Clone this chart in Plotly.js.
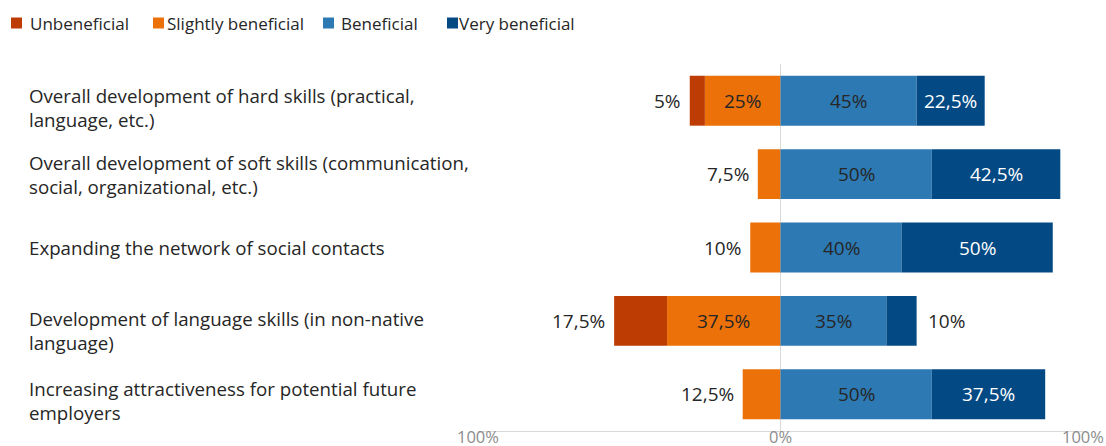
<!DOCTYPE html>
<html>
<head>
<meta charset="utf-8">
<script src="https://cdn.plot.ly/plotly-3.0.1.min.js"></script>
<style>html,body{margin:0;padding:0;background:#fff;}#chart{width:1106px;height:446px;}</style>
</head>
<body>
<div id="chart"></div>
<script>
// ---- data ----
const categories = [
  "Overall development of hard skills (practical,<br>language, etc.)",
  "Overall development of soft skills (communication,<br>social, organizational, etc.)",
  "Expanding the network of social contacts",
  "Development of language skills (in non-native<br>language)",
  "Increasing attractiveness for potential future<br>employers"
];
const seriesNames = ["Unbeneficial", "Slightly beneficial", "Beneficial", "Very beneficial"];
const unbeneficial = [5, 0, 0, 17.5, 0];
const slightlyBeneficial = [25, 7.5, 10, 37.5, 12.5];
const beneficial = [45, 50, 40, 35, 50];
const veryBeneficial = [22.5, 42.5, 50, 10, 37.5];
const tickValues = [-100, 0, 100];
const tickLabels = ["100%", "0%", "100%"];

// ---- style ----
const colors = ["#BC3C04", "#EB7108", "#2C79B3", "#034A84"];
const FONT = "Open Sans, Arial, sans-serif";
const textDark = "#262626";
const L = 478, R = 23, T = 64, B = 15, W = 1106, H = 446;
const pw = W - L - R, ph = H - T - B;
const px2paperX = p => (p - L) / pw;
const px2paperY = p => (H - B - p) / ph;

const fmt = v => String(v).replace('.', ',') + '%';

const traces = [
  {name: seriesNames[1], x: slightlyBeneficial.map(v => -v), y: categories, marker: {color: colors[1]}},
  {name: seriesNames[0], x: unbeneficial.map(v => -v), y: categories, marker: {color: colors[0]}},
  {name: seriesNames[2], x: beneficial, y: categories, marker: {color: colors[2]}},
  {name: seriesNames[3], x: veryBeneficial, y: categories, marker: {color: colors[3]}}
].map(t => Object.assign(t, {type: 'bar', orientation: 'h', hoverinfo: 'skip', showlegend: false,
  marker: Object.assign(t.marker, {line: {width: 0}})}));

const annotations = [];
const lblFont = (c) => ({family: FONT, size: 19, color: c});
const catShift = [7, 0, 0, 10, 6];

categories.forEach((cat, i) => {
  // category label
  annotations.push({xref: 'paper', yref: 'y', x: px2paperX(27), y: cat, xanchor: 'left', yanchor: 'middle',
    yshift: -catShift[i], text: cat, align: 'left', showarrow: false,
    font: {family: FONT, size: 18.7, color: textDark}});

  // negative side
  const s = slightlyBeneficial[i], u = unbeneficial[i];
  const leftEnd = -(s + u);
  const outerLeftVal = u > 0 ? u : s;
  annotations.push({xref: 'x', yref: 'y', x: leftEnd, y: cat, xanchor: 'right', xshift: -7,
    text: fmt(outerLeftVal), showarrow: false, font: lblFont(textDark)});
  if (u > 0 && s > 0) {
    annotations.push({xref: 'x', yref: 'y', x: -s / 2, y: cat, xanchor: 'center',
      text: fmt(s), showarrow: false, font: lblFont(textDark)});
  }
  // positive side
  const b = beneficial[i], v = veryBeneficial[i];
  annotations.push({xref: 'x', yref: 'y', x: b / 2, y: cat, xanchor: 'center',
    text: fmt(b), showarrow: false, font: lblFont(textDark)});
  if (v >= 15) {
    annotations.push({xref: 'x', yref: 'y', x: b + v / 2, y: cat, xanchor: 'center',
      text: fmt(v), showarrow: false, font: lblFont('#ffffff')});
  } else {
    annotations.push({xref: 'x', yref: 'y', x: b + v, y: cat, xanchor: 'left', xshift: 9,
      text: fmt(v), showarrow: false, font: lblFont(textDark)});
  }
});

// x tick labels (drawn close under the axis line, as in the reference)
tickValues.forEach((tv, i) => {
  annotations.push({xref: 'x', yref: 'paper', x: tv, y: 0, xanchor: 'center', yanchor: 'top',
    yshift: 7, borderpad: 0, text: tickLabels[i], showarrow: false,
    font: {family: FONT, size: 16.5, color: '#8c8c8c'}});
});

// custom legend
const legSquareX = [11, 153, 323, 447];
const legTextX = [28, 165, 339, 457];
const legY = 23, sq = 11;
const shapes = [];
seriesNames.forEach((n, i) => {
  shapes.push({type: 'rect', xref: 'paper', yref: 'paper',
    x0: px2paperX(legSquareX[i]), x1: px2paperX(legSquareX[i] + sq),
    y0: px2paperY(legY + sq / 2), y1: px2paperY(legY - sq / 2),
    fillcolor: colors[i], line: {width: 0}});
  annotations.push({xref: 'paper', yref: 'paper', x: px2paperX(legTextX[i]), y: px2paperY(legY),
    xanchor: 'left', yanchor: 'middle', text: n, showarrow: false,
    font: {family: FONT, size: 17, color: textDark}});
});

const layout = {
  width: W, height: H,
  margin: {l: L, r: R, t: T, b: B},
  paper_bgcolor: '#ffffff', plot_bgcolor: '#ffffff',
  barmode: 'relative', bargap: 0.32,
  showlegend: false,
  font: {family: FONT, color: textDark},
  xaxis: {range: [-100, 100], tickvals: tickValues, showticklabels: false, showgrid: true,
    gridcolor: '#d9d9d9', gridwidth: 1, zeroline: false, showline: true, linecolor: '#d9d9d9',
    ticks: '', fixedrange: true},
  yaxis: {type: 'category', autorange: 'reversed', showticklabels: false, showgrid: false,
    zeroline: false, fixedrange: true},
  annotations: annotations,
  shapes: shapes
};

Plotly.newPlot('chart', traces, layout, {staticPlot: true, displayModeBar: false});
</script>
</body>
</html>
